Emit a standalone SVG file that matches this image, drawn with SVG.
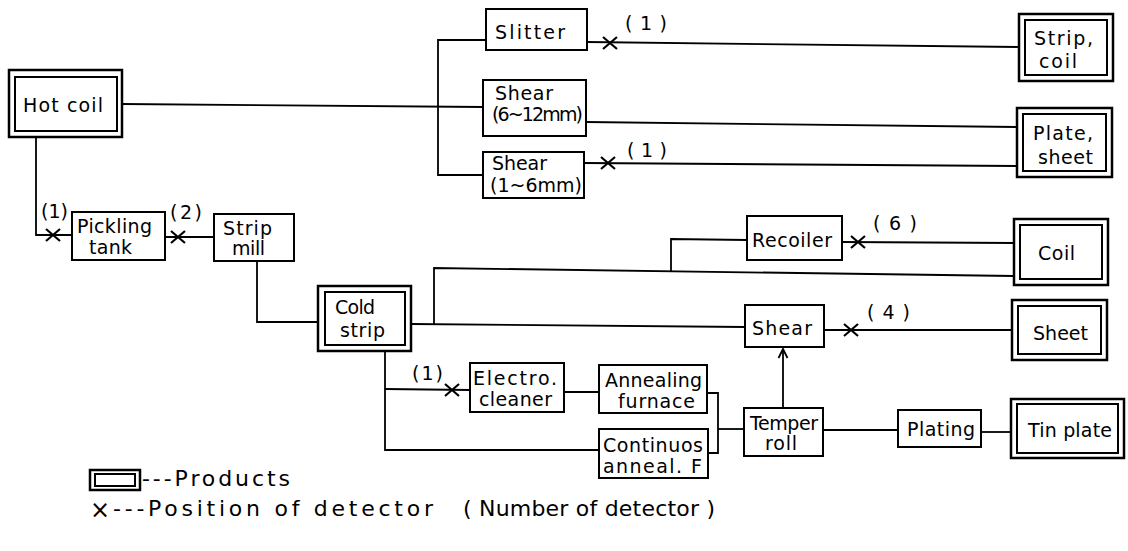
<svg xmlns="http://www.w3.org/2000/svg" xmlns:xlink="http://www.w3.org/1999/xlink" width="1128" height="551" viewBox="0 0 1128 551">
<style>
.box{fill:#fff;stroke:#000;stroke-width:2}
.outer{fill:#fff;stroke:#000;stroke-width:2.5}
.inner{fill:none;stroke:#000;stroke-width:2}
.ln{fill:none;stroke:#000;stroke-width:1.8}
.t{font-family:"DejaVu Sans","Liberation Sans",sans-serif;font-size:19px;fill:#000}
.lg{font-size:22px}
.lx{font-size:24px}
</style>
<defs>
<path id="det" d="M-7,-6 L7,6 M-7,6 L7,-6" fill="none" stroke="#000" stroke-width="2.2"/>
<marker id="arr" markerWidth="12" markerHeight="12" refX="10" refY="6" orient="auto" markerUnits="userSpaceOnUse">
<path d="M1,1.5 L10,6 L1,10.5" fill="none" stroke="#000" stroke-width="1.8"/>
</marker>
</defs>
<rect width="1128" height="551" fill="#fff"/>

<g id="connectors">
<path class="ln" d="M122,104 L483,107"/>
<path class="ln" d="M486,40 L438,40 L438,175 L483,175"/>
<path class="ln" d="M587,42 L1019,47"/>
<path class="ln" d="M586,122 L1017,127"/>
<path class="ln" d="M584,163 L1017,166"/>
<path class="ln" d="M36,137 L36,235 L72,235"/>
<path class="ln" d="M165,237 L214,237"/>
<path class="ln" d="M257,261 L257,322 L318,322"/>
<path class="ln" d="M411,324 L745,327"/>
<path class="ln" d="M434,324 L434,268 L1014,276"/>
<path class="ln" d="M671,272 L671,239 L747,240"/>
<path class="ln" d="M842,242 L1014,243"/>
<path class="ln" d="M824,330 L1012,330"/>
<path class="ln" d="M385,351 L385,450 L599,450"/>
<path class="ln" d="M385,389 L470,390"/>
<path class="ln" d="M564,392 L599,392"/>
<path class="ln" d="M707,393 L718,393 L718,453 L708,453"/>
<path class="ln" d="M718,429 L744,429"/>
<path class="ln" d="M823,430 L898,430"/>
<path class="ln" d="M981,432 L1011,432"/>
<path class="ln" d="M783,408 L783,349" marker-end="url(#arr)"/>
</g>

<g id="detectors">
<use xlink:href="#det" x="610" y="43"/>
<text class="t" x="625" y="30" textLength="42" lengthAdjust="spacing">( 1 )</text>
<use xlink:href="#det" x="608" y="163"/>
<text class="t" x="627" y="157" textLength="40" lengthAdjust="spacing">( 1 )</text>
<use xlink:href="#det" x="53" y="235"/>
<text class="t" x="41" y="218" textLength="27" lengthAdjust="spacing">(1)</text>
<use xlink:href="#det" x="178" y="237"/>
<text class="t" x="170" y="219" textLength="32" lengthAdjust="spacing">(2)</text>
<use xlink:href="#det" x="858" y="242"/>
<text class="t" x="873" y="230" textLength="44" lengthAdjust="spacing">( 6 )</text>
<use xlink:href="#det" x="851" y="330"/>
<text class="t" x="867" y="319" textLength="43" lengthAdjust="spacing">( 4 )</text>
<use xlink:href="#det" x="452" y="390"/>
<text class="t" x="412" y="380" textLength="31" lengthAdjust="spacing">(1)</text>
</g>

<g id="hot-coil">
<rect class="outer" x="9" y="70" width="113" height="67"/>
<rect class="inner" x="15" y="77" width="102" height="54"/>
<text class="t" x="23" y="112" textLength="80" lengthAdjust="spacing">Hot coil</text>
</g>
<g id="slitter">
<rect class="box" x="486" y="9" width="101" height="41"/>
<text class="t" x="495" y="39" textLength="70" lengthAdjust="spacing">Slitter</text>
</g>
<g id="shear-6-12">
<rect class="box" x="483" y="80" width="103" height="56"/>
<text class="t" x="495" y="100" textLength="58" lengthAdjust="spacing">Shear</text>
<text class="t" x="492" y="121" textLength="91" lengthAdjust="spacing">(6~12mm)</text>
</g>
<g id="shear-1-6">
<rect class="box" x="483" y="152" width="101" height="46"/>
<text class="t" x="492" y="170" textLength="55" lengthAdjust="spacing">Shear</text>
<text class="t" x="490" y="192" textLength="92" lengthAdjust="spacing">(1~6mm)</text>
</g>
<g id="strip-coil">
<rect class="outer" x="1019" y="14" width="94" height="67"/>
<rect class="inner" x="1025" y="20" width="82" height="55"/>
<text class="t" x="1034" y="45" textLength="59" lengthAdjust="spacing">Strip,</text>
<text class="t" x="1039" y="68" textLength="38" lengthAdjust="spacing">coil</text>
</g>
<g id="plate-sheet">
<rect class="outer" x="1017" y="108" width="95" height="69"/>
<rect class="inner" x="1023" y="114" width="83" height="57"/>
<text class="t" x="1033" y="140" textLength="60" lengthAdjust="spacing">Plate,</text>
<text class="t" x="1038" y="164" textLength="55" lengthAdjust="spacing">sheet</text>
</g>
<g id="pickling-tank">
<rect class="box" x="72" y="212" width="93" height="48"/>
<text class="t" x="77" y="233" textLength="75" lengthAdjust="spacing">Pickling</text>
<text class="t" x="89" y="254" textLength="43" lengthAdjust="spacing">tank</text>
</g>
<g id="strip-mill">
<rect class="box" x="214" y="214" width="80" height="47"/>
<text class="t" x="223" y="235" textLength="49" lengthAdjust="spacing">Strip</text>
<text class="t" x="232" y="255" textLength="33" lengthAdjust="spacing">mill</text>
</g>
<g id="cold-strip">
<rect class="outer" x="318" y="286" width="93" height="65"/>
<rect class="inner" x="325" y="292" width="80" height="53"/>
<text class="t" x="335" y="314" textLength="40" lengthAdjust="spacing">Cold</text>
<text class="t" x="340" y="337" textLength="45" lengthAdjust="spacing">strip</text>
</g>
<g id="recoiler">
<rect class="box" x="747" y="216" width="95" height="44"/>
<text class="t" x="752" y="247" textLength="80" lengthAdjust="spacing">Recoiler</text>
</g>
<g id="coil">
<rect class="outer" x="1014" y="219" width="94" height="66"/>
<rect class="inner" x="1020" y="225" width="82" height="54"/>
<text class="t" x="1038" y="260" textLength="37" lengthAdjust="spacing">Coil</text>
</g>
<g id="shear">
<rect class="box" x="745" y="305" width="79" height="42"/>
<text class="t" x="752" y="335" textLength="60" lengthAdjust="spacing">Shear</text>
</g>
<g id="sheet">
<rect class="outer" x="1012" y="300" width="95" height="60"/>
<rect class="inner" x="1018" y="306" width="83" height="48"/>
<text class="t" x="1033" y="340" textLength="55" lengthAdjust="spacing">Sheet</text>
</g>
<g id="electro-cleaner">
<rect class="box" x="470" y="363" width="94" height="49"/>
<text class="t" x="473" y="385" textLength="84" lengthAdjust="spacing">Electro.</text>
<text class="t" x="479" y="406" textLength="73" lengthAdjust="spacing">cleaner</text>
</g>
<g id="annealing-furnace">
<rect class="box" x="599" y="365" width="108" height="48"/>
<text class="t" x="605" y="387" textLength="97" lengthAdjust="spacing">Annealing</text>
<text class="t" x="618" y="408" textLength="77" lengthAdjust="spacing">furnace</text>
</g>
<g id="continuous-anneal">
<rect class="box" x="599" y="429" width="109" height="49"/>
<text class="t" x="603" y="452" textLength="100" lengthAdjust="spacing">Continuos</text>
<text class="t" x="603" y="473" textLength="99" lengthAdjust="spacing">anneal. F</text>
</g>
<g id="temper-roll">
<rect class="box" x="744" y="408" width="79" height="48"/>
<text class="t" x="750" y="430" textLength="68" lengthAdjust="spacing">Temper</text>
<text class="t" x="765" y="450" textLength="32" lengthAdjust="spacing">roll</text>
</g>
<g id="plating">
<rect class="box" x="898" y="410" width="83" height="37"/>
<text class="t" x="907" y="436" textLength="68" lengthAdjust="spacing">Plating</text>
</g>
<g id="tin-plate">
<rect class="outer" x="1011" y="399" width="113" height="59"/>
<rect class="inner" x="1017" y="404" width="101" height="49"/>
<text class="t" x="1028" y="437" textLength="84" lengthAdjust="spacing">Tin plate</text>
</g>

<g id="legend">
<rect class="outer" x="90" y="470" width="50" height="20"/>
<rect class="inner" x="95" y="474" width="40" height="12"/>
<text class="t lg" x="142" y="486" textLength="148" lengthAdjust="spacing">---Products</text>
<text class="t lx" x="90" y="518">×</text>
<text class="t lg" x="113" y="516" textLength="320" lengthAdjust="spacing">---Position of detector</text>
<text class="t lg" x="463" y="516" textLength="252" lengthAdjust="spacing">( Number of detector )</text>
</g>
</svg>
